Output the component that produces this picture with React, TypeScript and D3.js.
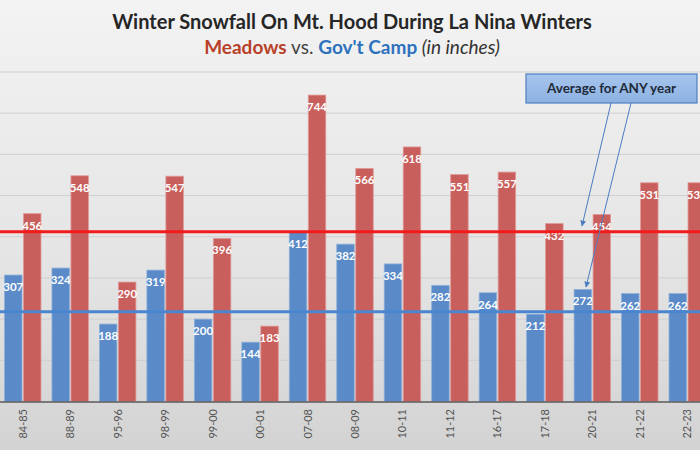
import React from "react";
import * as d3 from "d3";

const categories = ["84-85", "88-89", "95-96", "98-99", "99-00", "00-01", "07-08", "08-09", "10-11", "11-12", "16-17", "17-18", "20-21", "21-22", "22-23"];
const govtCamp = [307, 324, 188, 319, 200, 144, 412, 382, 334, 282, 264, 212, 272, 262, 262];
const meadows = [456, 548, 290, 547, 396, 183, 744, 566, 618, 551, 557, 432, 454, 531, 531];
const averages = { meadows: 412, govtCamp: 218 };
const gridTicks = [100, 200, 300, 400, 500, 600, 700, 800];

const W = 700, H = 450;
const FONT = "Lato, 'Open Sans', sans-serif";

export default function App() {
  const x = d3.scaleBand<string>().domain(categories).range([-1, 711]).paddingInner(0).paddingOuter(0);
  const y = d3.scaleLinear().domain([0, 800]).range([401.5, 72]);
  const step = x.bandwidth();
  const barW = 17.5;
  const gap = 1.5;
  const series = [
    { name: "govt", values: govtCamp, color: "#5A8AC7", stroke: "#8FB0DA", offset: -barW - gap / 2 },
    { name: "meadows", values: meadows, color: "#C95F5C", stroke: "#E09A98", offset: gap / 2 },
  ];
  return (
    <svg width={W} height={H} style={{ position: "absolute", left: 0, top: 0 }} xmlns="http://www.w3.org/2000/svg">
      <defs>
        <linearGradient id="bg" x1="0" y1="0" x2="0" y2="1">
          <stop offset="0" stopColor="#f3f3f3" />
          <stop offset="0.6" stopColor="#e4e4e4" />
          <stop offset="1" stopColor="#d3d3d3" />
        </linearGradient>
        <linearGradient id="box" x1="0" y1="0" x2="0" y2="1">
          <stop offset="0" stopColor="#a7c5ec" />
          <stop offset="1" stopColor="#8cb2e3" />
        </linearGradient>
        <marker id="arrow" viewBox="0 0 10 10" refX="9" refY="5" markerWidth="6" markerHeight="6" orient="auto">
          <path d="M0,0 L10,5 L0,10 z" fill="#4A7CC0" />
        </marker>
      </defs>
      <rect x={0} y={0} width={W} height={H} fill="url(#bg)" />
      {gridTicks.map((t) => (
        <line key={t} x1={0} x2={W} y1={y(t)} y2={y(t)} stroke="#cfcfcf" strokeWidth={1} />
      ))}
      {series.map((s) =>
        s.values.map((v, i) => {
          const cx = (x(categories[i]) as number) + step / 2;
          const bx = cx + s.offset;
          const top = y(v);
          return (
            <g key={s.name + i}>
              <rect x={bx} y={top} width={barW} height={y(0) - top} fill={s.color} stroke={s.stroke} strokeWidth={0.8} />
              <text x={bx + barW / 2} y={top + 16} textAnchor="middle" fill="#ffffff" fontFamily={FONT} fontWeight="bold" fontSize={11.5}>
                {v}
              </text>
            </g>
          );
        })
      )}
      <line x1={0} x2={W} y1={y(averages.meadows)} y2={y(averages.meadows)} stroke="#F21A1A" strokeWidth={3} />
      <line x1={0} x2={W} y1={y(averages.govtCamp)} y2={y(averages.govtCamp)} stroke="#4A86CF" strokeWidth={3} />
      <line x1={0} x2={W} y1={y(0) + 0.5} y2={y(0) + 0.5} stroke="#5a5a5a" strokeWidth={1.5} />
      {categories.map((c) => {
        const cx = (x(c) as number) + step / 2;
        return (
          <text key={c} transform={`translate(${cx + 4},${409}) rotate(-90)`} textAnchor="end" fill="#555" fontFamily={FONT} fontSize={11}>
            {c}
          </text>
        );
      })}
      <line x1={611} y1={103} x2={582} y2={226} stroke="#4A7CC0" strokeWidth={1} markerEnd="url(#arrow)" />
      <line x1={631} y1={103} x2={586} y2={287} stroke="#4A7CC0" strokeWidth={1} markerEnd="url(#arrow)" />
      <rect x={526} y={74} width={171} height={29} fill="url(#box)" stroke="#4F7FC2" strokeWidth={1.2} />
      <text x={611.5} y={93} textAnchor="middle" fill="#1f2a3a" fontFamily={FONT} fontWeight="bold" fontSize={13.5}>
        Average for ANY year
      </text>
      <text x={352} y={29} textAnchor="middle" fill="#262626" fontFamily={FONT} fontWeight="bold" fontSize={20}>
        Winter Snowfall On Mt. Hood During La Nina Winters
      </text>
      <text x={352} y={54} textAnchor="middle" fontFamily={FONT} fontSize={19}>
        <tspan fill="#B8412A" fontWeight="bold">Meadows</tspan>
        <tspan fill="#444"> vs. </tspan>
        <tspan fill="#2E72BE" fontWeight="bold">Gov't Camp</tspan>
        <tspan fill="#333" fontStyle="italic"> (in inches)</tspan>
      </text>
    </svg>
  );
}
